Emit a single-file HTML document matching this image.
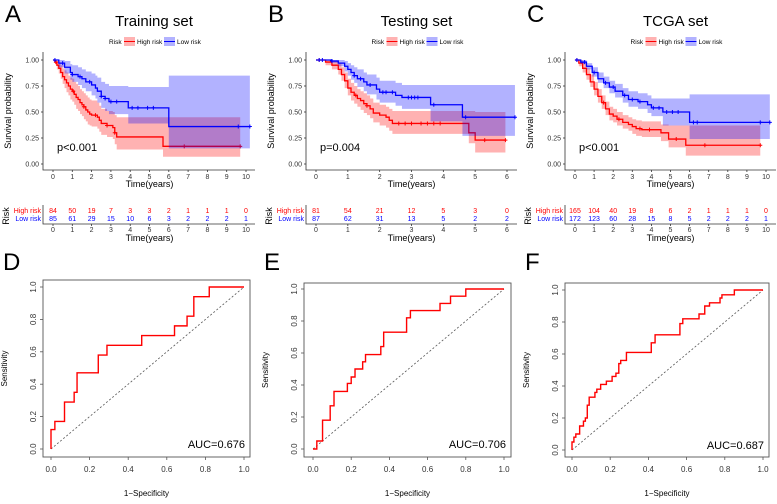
<!DOCTYPE html>
<html><head><meta charset="utf-8"><style>
body{margin:0;background:#fff;}
svg{display:block;font-family:"Liberation Sans",Arial,sans-serif;}
</style></head><body>
<svg id="fig" width="777" height="504" viewBox="0 0 777 504" xmlns="http://www.w3.org/2000/svg"></svg>
<script>
// ---------- KM data ----------
const kmTitles = ["Training set","Testing set","TCGA set"];
const kmLetters = ["A","B","C"];
const kmPvals = ["p<0.001","p=0.004","p<0.001"];
const kmXTicks = [[0,1,2,3,4,5,6,7,8,9,10],[0,1,2,3,4,5,6],[0,1,2,3,4,5,6,7,8,9,10]];
const kmYTicks = [0,0.25,0.5,0.75,1];
const kmYTickLabels = ["0.00","0.25","0.50","0.75","1.00"];
// A
const aHighT = [0,0.1,0.2,0.3,0.4,0.5,0.6,0.7,0.8,0.9,1.0,1.1,1.2,1.3,1.4,1.5,1.6,1.7,1.8,1.9,2.0,2.3,2.4,2.5,2.8,3.1,3.2,3.3,5.7,9.7];
const aHighS = [1,0.98,0.95,0.92,0.88,0.84,0.81,0.78,0.75,0.72,0.70,0.67,0.64,0.62,0.59,0.57,0.55,0.52,0.50,0.48,0.47,0.45,0.42,0.39,0.37,0.35,0.30,0.26,0.17,0.17];
const aHighLo = [1,0.96,0.91,0.87,0.82,0.77,0.73,0.69,0.66,0.62,0.60,0.57,0.53,0.51,0.48,0.46,0.43,0.41,0.38,0.37,0.36,0.34,0.31,0.28,0.26,0.24,0.19,0.14,0.07,0.07];
const aHighHi = [1,1,0.99,0.97,0.95,0.92,0.90,0.88,0.85,0.83,0.82,0.79,0.77,0.75,0.72,0.70,0.68,0.66,0.64,0.62,0.61,0.59,0.56,0.53,0.51,0.50,0.47,0.45,0.45,0.45];
const aHighCens = [0.15,1.05,1.6,2.2,2.8,3.2,6.8,9.7];
const aLowT = [0,0.3,0.6,0.9,1.0,1.3,1.5,1.7,2.0,2.2,2.3,2.5,2.7,2.9,3.9,6.0,10.2];
const aLowS = [1,0.97,0.93,0.88,0.86,0.84,0.82,0.79,0.76,0.73,0.70,0.65,0.63,0.60,0.54,0.36,0.36];
const aLowLo = [1,0.93,0.87,0.81,0.79,0.76,0.73,0.70,0.66,0.63,0.59,0.54,0.51,0.48,0.39,0.15,0.15];
const aLowHi = [1,1,0.99,0.96,0.95,0.93,0.91,0.89,0.87,0.85,0.83,0.79,0.77,0.75,0.74,0.85,0.85];
const aLowCens = [0.1,0.5,1.0,1.4,1.9,2.5,2.7,3.0,3.3,4.1,4.4,4.9,5.2,9.6,10.2];
// B
const bHighT = [0,0.3,0.5,0.7,0.8,0.9,1.0,1.1,1.2,1.3,1.4,1.5,1.6,1.7,1.8,2.0,2.2,2.3,2.4,4.8,5.0,5.95];
const bHighS = [1,0.98,0.95,0.91,0.86,0.80,0.73,0.69,0.66,0.63,0.61,0.58,0.56,0.53,0.49,0.47,0.45,0.42,0.39,0.30,0.23,0.23];
const bHighLo = [1,0.95,0.91,0.86,0.80,0.73,0.66,0.61,0.58,0.55,0.52,0.49,0.47,0.44,0.40,0.37,0.35,0.32,0.29,0.20,0.11,0.11];
const bHighHi = [1,1,0.99,0.97,0.93,0.88,0.82,0.78,0.75,0.72,0.70,0.68,0.66,0.63,0.59,0.57,0.55,0.53,0.51,0.51,0.50,0.50];
const bHighCens = [0.1,1.25,1.6,2.6,2.8,3.0,3.3,3.5,3.7,3.9,5.3,5.95];
const bLowT = [0,0.5,0.7,0.9,1.0,1.1,1.2,1.3,1.5,1.6,1.9,2.0,2.5,2.7,3.6,4.6,6.25];
const bLowS = [1,0.99,0.97,0.94,0.91,0.88,0.85,0.82,0.79,0.76,0.72,0.69,0.66,0.64,0.57,0.45,0.45];
const bLowLo = [1,0.97,0.94,0.89,0.85,0.81,0.78,0.74,0.70,0.67,0.62,0.59,0.56,0.53,0.41,0.27,0.27];
const bLowHi = [1,1,1,0.99,0.97,0.95,0.93,0.91,0.88,0.86,0.83,0.80,0.78,0.76,0.76,0.76,0.76];
const bLowCens = [0.1,0.2,0.5,1.2,1.4,1.7,2.1,2.2,2.4,2.9,3.0,3.1,3.2,3.7,4.7,6.25];
// C
const cHighT = [0,0.2,0.4,0.6,0.8,1.0,1.2,1.4,1.6,1.8,2.0,2.2,2.5,2.8,3.0,3.2,3.5,4.5,4.9,5.8,9.7];
const cHighS = [1,0.97,0.92,0.86,0.79,0.72,0.65,0.59,0.53,0.48,0.46,0.43,0.40,0.38,0.36,0.34,0.33,0.30,0.24,0.18,0.18];
const cHighLo = [1,0.94,0.88,0.81,0.74,0.66,0.59,0.53,0.47,0.42,0.40,0.37,0.34,0.32,0.29,0.27,0.26,0.22,0.16,0.08,0.08];
const cHighHi = [1,1,0.97,0.92,0.86,0.79,0.72,0.66,0.60,0.55,0.53,0.50,0.47,0.45,0.43,0.42,0.41,0.38,0.37,0.37,0.37];
const cHighCens = [0.1,1.5,2.3,3.4,3.9,5.3,6.8,9.7];
const cLowT = [0,0.3,0.6,0.9,1.2,1.5,1.8,2.1,2.5,2.8,3.3,3.8,4.0,4.6,6.0,10.2];
const cLowS = [1,0.98,0.94,0.88,0.82,0.78,0.74,0.70,0.66,0.62,0.60,0.57,0.54,0.50,0.40,0.40];
const cLowLo = [1,0.96,0.91,0.84,0.78,0.73,0.68,0.64,0.59,0.55,0.53,0.49,0.46,0.37,0.24,0.24];
const cLowHi = [1,1,0.97,0.93,0.88,0.84,0.80,0.77,0.73,0.70,0.68,0.66,0.63,0.63,0.67,0.67];
const cLowCens = [0.1,0.5,1.0,1.6,2.0,2.6,3.0,3.4,4.1,4.4,4.8,5.1,5.4,6.2,6.4,9.7,10.2];
const kmHigh = [[aHighT,aHighS,aHighLo,aHighHi,aHighCens],[bHighT,bHighS,bHighLo,bHighHi,bHighCens],[cHighT,cHighS,cHighLo,cHighHi,cHighCens]];
const kmLow = [[aLowT,aLowS,aLowLo,aLowHi,aLowCens],[bLowT,bLowS,bLowLo,bLowHi,bLowCens],[cLowT,cLowS,cLowLo,cLowHi,cLowCens]];
const riskHigh = [[84,50,19,7,3,3,2,1,1,1,0],[81,54,21,12,5,3,0],[165,104,40,19,8,6,2,1,1,1,0]];
const riskLow = [[85,61,29,15,10,6,3,2,2,2,1],[87,62,31,13,5,2,2],[172,123,60,28,15,8,5,2,2,2,1]];
// ---------- ROC data ----------
const rocLetters = ["D","E","F"];
const rocAuc = ["AUC=0.676","AUC=0.706","AUC=0.687"];
const rocTicks = [0,0.2,0.4,0.6,0.8,1.0];
const rocTickLabels = ["0.0","0.2","0.4","0.6","0.8","1.0"];
const dFpr = [0,0,0.02,0.02,0.07,0.07,0.12,0.12,0.135,0.135,0.245,0.245,0.29,0.29,0.47,0.47,0.64,0.64,0.705,0.705,0.74,0.74,0.82,0.82,1];
const dTpr = [0,0.12,0.12,0.17,0.17,0.29,0.29,0.35,0.35,0.47,0.47,0.58,0.58,0.64,0.64,0.7,0.7,0.76,0.76,0.82,0.82,0.94,0.94,1,1];
const eFpr = [0,0.02,0.02,0.05,0.05,0.09,0.09,0.11,0.11,0.18,0.18,0.2,0.2,0.22,0.22,0.26,0.26,0.275,0.275,0.355,0.355,0.37,0.37,0.49,0.49,0.51,0.51,0.665,0.665,0.72,0.72,0.8,0.8,1];
const eTpr = [0,0,0.05,0.05,0.18,0.18,0.27,0.27,0.36,0.36,0.41,0.41,0.45,0.45,0.5,0.5,0.545,0.545,0.59,0.59,0.64,0.64,0.73,0.73,0.82,0.82,0.865,0.865,0.91,0.91,0.955,0.955,1,1];
const fFpr = [0,0,0.01,0.01,0.02,0.02,0.04,0.04,0.06,0.06,0.07,0.07,0.08,0.08,0.09,0.09,0.12,0.12,0.13,0.13,0.15,0.15,0.18,0.18,0.21,0.21,0.23,0.23,0.245,0.245,0.255,0.255,0.285,0.285,0.415,0.415,0.435,0.435,0.565,0.565,0.58,0.58,0.665,0.665,0.695,0.695,0.72,0.72,0.775,0.775,0.785,0.785,0.85,0.85,1];
const fTpr = [0,0.05,0.05,0.08,0.08,0.1,0.1,0.15,0.15,0.18,0.18,0.2,0.2,0.28,0.28,0.33,0.33,0.36,0.36,0.38,0.38,0.41,0.41,0.43,0.43,0.46,0.46,0.48,0.48,0.54,0.54,0.56,0.56,0.61,0.61,0.67,0.67,0.72,0.72,0.79,0.79,0.82,0.82,0.85,0.85,0.9,0.9,0.92,0.92,0.95,0.95,0.97,0.97,1,1];
const rocFpr = [dFpr,eFpr,fFpr];
const rocTpr = [dTpr,eTpr,fTpr];

const NS="http://www.w3.org/2000/svg";
const svg=document.getElementById('fig');
function mk(tag,attrs,parent,txt){const e=document.createElementNS(NS,tag);for(const k in attrs)e.setAttribute(k,attrs[k]);if(txt!==undefined)e.textContent=txt;(parent||svg).appendChild(e);return e;}

// KM layout
const kmLay=[{L:43,x0:53,x1:246,xmax:10,R:255},{L:306,x0:316,x1:507,xmax:6,R:517},{L:565,x0:575,x1:766,xmax:10,R:776}];
const kmY0=164,kmY1=60;
kmLay.forEach((p,i)=>{
  const g=mk('g',{});
  
  
  const sx=t=>p.x0+(p.x1-p.x0)*t/p.xmax;
  const sy=s=>kmY0+(kmY1-kmY0)*s;
  const cx=(p.L+p.R)/2;
  let e=mk('text',{x:p.L-38,y:22,'font-size':24},g,kmLetters[i]);
  e=mk('text',{x:cx+5,y:26,'font-size':15,'text-anchor':'middle'},g,kmTitles[i]);
  // legend
  const lg=mk('g',{},g);
  const lx=cx-40;
  mk('text',{x:lx,y:44,'font-size':6.5},lg,'Risk');
  mk('rect',{x:lx+15,y:37,width:11,height:9,fill:'rgba(255,0,0,0.3)'},lg);
  mk('line',{x1:lx+15,y1:41.5,x2:lx+26,y2:41.5,stroke:'#f00','stroke-width':1},lg);
  mk('text',{x:lx+28,y:44,'font-size':6.5},lg,'High risk');
  mk('rect',{x:lx+55,y:37,width:11,height:9,fill:'rgba(0,0,255,0.3)'},lg);
  mk('line',{x1:lx+55,y1:41.5,x2:lx+66,y2:41.5,stroke:'#00f','stroke-width':1},lg);
  mk('text',{x:lx+68,y:44,'font-size':6.5},lg,'Low risk');
  // bands and lines
  [[kmHigh[i],'255,0,0','#f00','high'],[kmLow[i],'0,0,255','#00f','low']].forEach(([d,rgb,col,nm])=>{
    const [T,S,Lo,Hi,C]=d;
    let up='',dn='';
    for(let k=0;k<T.length;k++){
      const xa=sx(T[k]);const xb=k<T.length-1?sx(T[k+1]):sx(T[k]);
      up+=(k?'L':'M')+xa+','+sy(Hi[k])+'L'+xb+','+sy(Hi[k]);
    }
    for(let k=T.length-1;k>=0;k--){
      const xa=sx(T[k]);const xb=k<T.length-1?sx(T[k+1]):sx(T[k]);
      dn+='L'+xb+','+sy(Lo[k])+'L'+xa+','+sy(Lo[k]);
    }
    const b=mk('path',{d:up+dn+'Z',fill:'rgba('+rgb+',0.3)'},g);
    
    let ln='';
    for(let k=0;k<T.length;k++){
      ln+=(k?'L'+sx(T[k])+','+sy(S[k-1]):'M'+sx(T[k])+','+sy(S[k]))+'L'+sx(T[k])+','+sy(S[k]);
    }
    const l=mk('path',{d:ln,fill:'none',stroke:col,'stroke-width':1.3},g);
    
    C.forEach(t=>{let s=S[0];for(let k=0;k<T.length;k++)if(T[k]<=t)s=S[k];
      const X=sx(t),Y=sy(s);
      const m=mk('path',{d:`M${X-2},${Y}L${X+2},${Y}M${X},${Y-2}L${X},${Y+2}`,stroke:col,'stroke-width':1},g);
      });
  });
  // axes
  mk('path',{d:`M${p.L},52L${p.L},170L${p.R},170`,fill:'none',stroke:'#333','stroke-width':0.8},g);
  kmYTicks.forEach((v,k)=>{mk('line',{x1:p.L-2,x2:p.L,y1:sy(v),y2:sy(v),stroke:'#333','stroke-width':0.8},g);
    mk('text',{x:p.L-4,y:sy(v)+2.5,'font-size':7,'text-anchor':'end',fill:'#333'},g,kmYTickLabels[k]);});
  kmXTicks[i].forEach(v=>{mk('line',{x1:sx(v),x2:sx(v),y1:170,y2:172,stroke:'#333','stroke-width':0.8},g);
    mk('text',{x:sx(v),y:179,'font-size':7,'text-anchor':'middle',fill:'#333'},g,String(v));});
  e=mk('text',{x:(p.x0+p.x1)/2,y:187,'font-size':9,'text-anchor':'middle'},g,'Time(years)');
  e=mk('text',{x:0,y:0,'font-size':9,'text-anchor':'middle',transform:`translate(${p.L-32},111) rotate(-90)`},g,'Survival probability');
  e=mk('text',{x:p.x0+4,y:151,'font-size':11},g,kmPvals[i]);
  // risk table
  const tg=mk('g',{},g);
  mk('text',{x:p.L-2,y:213,'font-size':7,'text-anchor':'end',fill:'#f00'},tg,'High risk');
  mk('text',{x:p.L-2,y:221,'font-size':7,'text-anchor':'end',fill:'#00f'},tg,'Low risk');
  mk('text',{x:0,y:0,'font-size':9,'text-anchor':'middle',transform:`translate(${p.L-34},216) rotate(-90)`},tg,'Risk');
  kmXTicks[i].forEach((v,k)=>{
    mk('text',{x:sx(v),y:213,'font-size':7,'text-anchor':'middle',fill:'#f00'},tg,String(riskHigh[i][k]));
    mk('text',{x:sx(v),y:221,'font-size':7,'text-anchor':'middle',fill:'#00f'},tg,String(riskLow[i][k]));
    mk('line',{x1:sx(v),x2:sx(v),y1:224,y2:226,stroke:'#333','stroke-width':0.8},tg);
    mk('text',{x:sx(v),y:232,'font-size':7,'text-anchor':'middle',fill:'#333'},tg,String(v));
  });
  mk('path',{d:`M${p.L},205L${p.L},224L${p.R},224`,fill:'none',stroke:'#333','stroke-width':0.8},tg);
  mk('text',{x:(p.x0+p.x1)/2,y:241,'font-size':9,'text-anchor':'middle'},tg,'Time(years)');
});

// ROC layout
const rocLay=[{L:43,R:250,T:280,B:457,x0:51,x1:244,y0:449,y1:287},{L:304,R:511,T:283,B:457,x0:313,x1:504,y0:449,y1:289},{L:565,R:769,T:283,B:457,x0:572,x1:763,y0:450,y1:290}];
rocLay.forEach((p,i)=>{
  const g=mk('g',{});
  
  
  const sx=v=>p.x0+(p.x1-p.x0)*v, sy=v=>p.y0+(p.y1-p.y0)*v;
  let e=mk('text',{x:p.L-40,y:270,'font-size':24},g,rocLetters[i]);
  mk('rect',{x:p.L,y:p.T,width:p.R-p.L,height:p.B-p.T,fill:'none',stroke:'#555','stroke-width':0.9},g);
  e=mk('line',{x1:sx(0),y1:sy(0),x2:sx(1),y2:sy(1),stroke:'#555','stroke-width':0.8,'stroke-dasharray':'2,2'},g);
  let d='';rocFpr[i].forEach((v,k)=>{d+=(k?'L':'M')+sx(v)+','+sy(rocTpr[i][k]);});
  e=mk('path',{d:d,fill:'none',stroke:'#f00','stroke-width':1.4},g);
  rocTicks.forEach((v,k)=>{
    mk('line',{x1:sx(v),x2:sx(v),y1:p.B,y2:p.B+3,stroke:'#555','stroke-width':0.8},g);
    mk('text',{x:sx(v),y:p.B+15,'font-size':8,'text-anchor':'middle',fill:'#333'},g,rocTickLabels[k]);
    mk('line',{x1:p.L-3,x2:p.L,y1:sy(v),y2:sy(v),stroke:'#555','stroke-width':0.8},g);
    mk('text',{x:0,y:0,'font-size':8,'text-anchor':'middle',fill:'#333',transform:`translate(${p.L-7},${sy(v)}) rotate(-90)`},g,rocTickLabels[k]);
  });
  e=mk('text',{x:(p.L+p.R)/2,y:496,'font-size':8,'text-anchor':'middle'},g,'1\u2212Specificity');
  e=mk('text',{x:0,y:0,'font-size':8,'text-anchor':'middle',transform:`translate(${p.L-36},${(p.T+p.B)/2}) rotate(-90)`},g,'Sensitivity');
  e=mk('text',{x:p.R-5,y:sy(0)-1,'font-size':11,'text-anchor':'end'},g,rocAuc[i]);
});
</script>
</body></html>
